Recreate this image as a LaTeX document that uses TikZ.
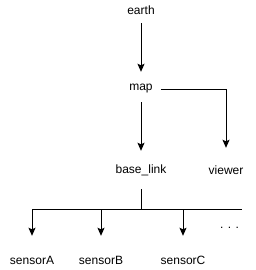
\documentclass[tikz,border=0pt]{standalone}
\usepackage{fontspec}
\setmainfont{Liberation Sans}
\usetikzlibrary{arrows.meta}
\begin{document}
\begin{tikzpicture}[x=1pt,y=-1pt,
  lbl/.style={font=\fontsize{12}{14}\selectfont, inner sep=0pt, minimum height=26pt},
  ln/.style={draw, line width=1pt},
  arr/.style={ln, -{Stealth[length=8pt,width=7pt,inset=1.5pt]}}]
\useasboundingbox (0,0) rectangle (256,270);
\node[lbl] (earth) at (141,10) {earth};
\node[lbl] (map) at (141,89) {map};
\node[lbl] (base) at (141,170) {base\_link};
\node[lbl] (viewer) at (226,170) {viewer};
\node[lbl] (sA) at (32,260) {sensorA};
\node[lbl] (sB) at (101,260) {sensorB};
\node[lbl] (sC) at (183,260) {sensorC};
\node[font=\fontsize{12}{14}\selectfont, inner sep=0pt, anchor=base] (dots) at (229.5,228) {. . .};
\coordinate (bus) at (141,209);
\coordinate (busL) at (32,209);
\coordinate (busR) at (242,209);
\draw[arr, shorten >=4pt] (earth) -- (map);
\draw[arr, shorten >=6pt] (map) -- (base);
\draw[arr, shorten <=8pt, shorten >=9pt] (map.east) -| (viewer.north);
\draw[ln, shorten <=6pt] (base) -- (bus);
\draw[ln] (busL) -- (busR);
\draw[arr, shorten >=11pt] (sA |- bus) -- (sA);
\draw[arr, shorten >=11pt] (sB |- bus) -- (sB);
\draw[arr, shorten >=11pt] (sC |- bus) -- (sC);
\end{tikzpicture}
\end{document}
